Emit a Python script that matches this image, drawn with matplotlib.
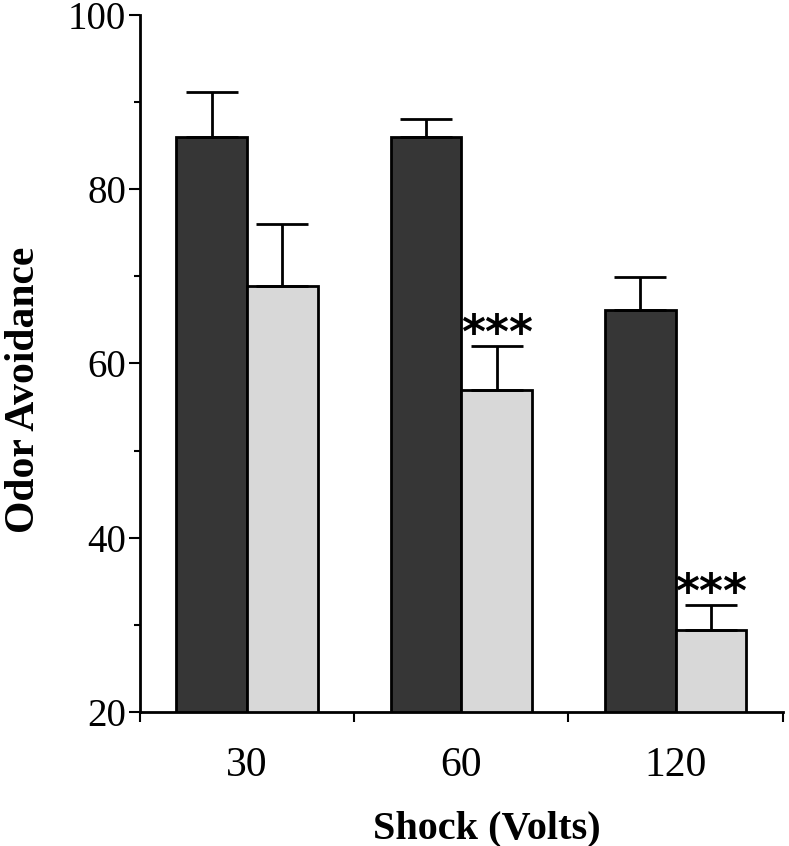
import matplotlib
matplotlib.use("Agg")
import matplotlib.pyplot as plt
from matplotlib.ticker import MultipleLocator, FixedLocator, NullFormatter
import numpy as np

categories = ["30", "60", "120"]
dark_values = [86.0, 86.0, 66.1]
dark_errors = [5.1, 2.0, 3.8]
light_values = [68.9, 56.9, 29.4]
light_errors = [7.1, 5.1, 2.9]
significance = ["", "***", "***"]

plt.rcParams['font.family'] = ['Liberation Serif', 'DejaVu Serif']

fig = plt.figure(figsize=(7.89, 8.46), dpi=100)
ax = fig.add_axes([0.1774, 0.1584, 0.8146, 0.824])

x = np.arange(len(categories))
w = 0.33
ax.bar(x - w / 2, dark_values, width=w, bottom=0, color='#363636',
       edgecolor='black', linewidth=2, zorder=2)
ax.bar(x + w / 2, light_values, width=w, bottom=0, color='#d8d8d8',
       edgecolor='black', linewidth=2, zorder=2)
ax.errorbar(x - w / 2, dark_values, yerr=[np.zeros(3), dark_errors], fmt='none',
            ecolor='black', elinewidth=2, capsize=19, capthick=2, zorder=3)
ax.errorbar(x + w / 2, light_values, yerr=[np.zeros(3), light_errors], fmt='none',
            ecolor='black', elinewidth=2, capsize=19, capthick=2, zorder=3)

for xi, v, e, s in zip(x, light_values, light_errors, significance):
    if s:
        ax.annotate(s, xy=(xi + w / 2, v + e), xytext=(0, -8.5), textcoords='offset points',
                    ha='center', va='bottom', fontsize=33, fontweight='bold',
                    family='DejaVu Sans')

ax.set_xlim(-0.5, 2.5)
ax.set_ylim(20, 100)
ax.yaxis.set_major_locator(MultipleLocator(20))
ax.yaxis.set_minor_locator(MultipleLocator(10))
ax.set_xticks(x)
ax.set_xticklabels(categories)
ax.tick_params(axis='x', which='major', length=0, pad=25, labelsize=30)
ax.xaxis.set_minor_locator(FixedLocator([-0.5, 0.5, 1.5, 2.5]))
ax.xaxis.set_minor_formatter(NullFormatter())
ax.tick_params(axis='x', which='minor', length=7, width=1.5, direction='out')
ax.tick_params(axis='y', which='major', length=8, width=1.5, labelsize=28, pad=2)
ax.tick_params(axis='y', which='minor', length=4, width=1.5)

for side in ['top', 'right']:
    ax.spines[side].set_visible(False)
for side in ['left', 'bottom']:
    ax.spines[side].set_linewidth(2)

ax.set_xlabel("Shock (Volts)", fontsize=29, fontweight='bold')
ax.set_ylabel("Odor Avoidance", fontsize=30, fontweight='bold')
ax.xaxis.set_label_coords(0.540, -0.168)
ax.xaxis.label.set_verticalalignment('center')
ax.yaxis.set_label_coords(-0.180, 0.462)
ax.yaxis.label.set_verticalalignment('center')

fig.savefig("out.png", dpi=100)
